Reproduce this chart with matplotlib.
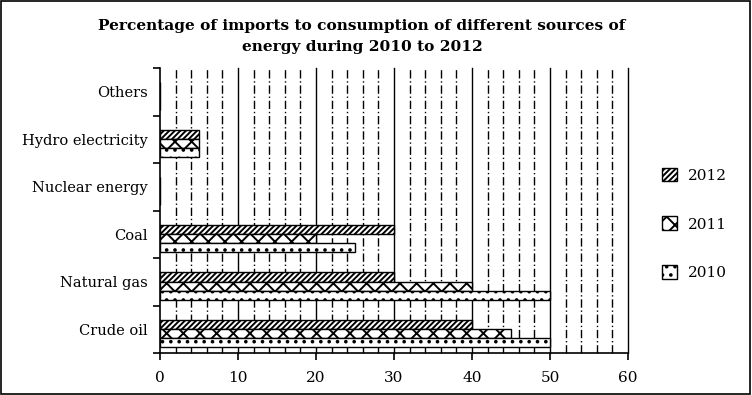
import numpy as np
import matplotlib
matplotlib.use("Agg")
import matplotlib.pyplot as plt
from matplotlib.patches import Patch, Rectangle

plt.rcParams['font.family'] = 'DejaVu Serif'
plt.rcParams['hatch.linewidth'] = 1.4

categories = ['Crude oil', 'Natural gas', 'Coal', 'Nuclear energy', 'Hydro electricity', 'Others']
years = ['2012', '2011', '2010']
v2012 = [40, 30, 30, 0, 5, 0]
v2011 = [45, 40, 20, 0, 5, 0]
v2010 = [50, 50, 25, 0, 5, 0]
hatches = ['//////', 'xx', '..']

fig = plt.figure(figsize=(7.52, 3.95), dpi=100)
ax = fig.add_axes([160 / 752, 1 - 353 / 395, 468 / 752, 285 / 395])

y = np.arange(len(categories))
h = 0.19
off = -0.09
series = [v2012, v2011, v2010]
for i, vals in enumerate(series):
    ax.barh(y + off + h - i * h, vals, height=h, color='white', edgecolor='black',
            hatch=hatches[i], linewidth=1.0, zorder=3)

# grid: solid at tens, dash-dot in between
for gx in range(2, 61, 2):
    ls = '-' if gx % 10 == 0 else (0, (6, 2, 1, 2))
    ax.axvline(gx, color='black', lw=1.0, ls=ls, zorder=1, clip_on=False)

ax.set_xlim(0, 60)
ax.set_ylim(-0.5, 5.5)
ax.set_xticks(range(0, 61, 10))
ax.set_yticks(y)
ax.set_yticklabels(categories, fontsize=10.5)
ax.set_yticks(np.arange(-0.5, 6.0, 1), minor=True)
ax.tick_params(axis='y', which='major', length=0, pad=9)
ax.tick_params(axis='y', which='minor', length=5, width=1.2)
ax.tick_params(axis='x', length=5, width=1.2, labelsize=11, pad=8)
ax.spines['top'].set_visible(False)
ax.spines['right'].set_visible(False)
ax.spines['left'].set_linewidth(1.2)
ax.spines['bottom'].set_linewidth(1.2)

handles = [Patch(facecolor='white', edgecolor='black', hatch=hatches[i], label=years[i])
           for i in range(3)]
fig.legend(handles=handles, loc='center left', bbox_to_anchor=(648 / 752, 1 - 224 / 395),
           frameon=False, fontsize=11, labelspacing=2.2, handlelength=1.0,
           handleheight=1.0, handletextpad=0.7)

fig.text(362 / 752, 1 - 26 / 395, 'Percentage of imports to consumption of different sources of',
         ha='center', va='center', fontsize=11.1, fontweight='bold')
fig.text(362 / 752, 1 - 47 / 395, 'energy during 2010 to 2012',
         ha='center', va='center', fontsize=11.1, fontweight='bold')

fig.patches.append(Rectangle((0.001, 0.002), 0.997, 0.995, transform=fig.transFigure,
                             fill=False, edgecolor='black', lw=1.2))

fig.savefig('out.png', dpi=100)
